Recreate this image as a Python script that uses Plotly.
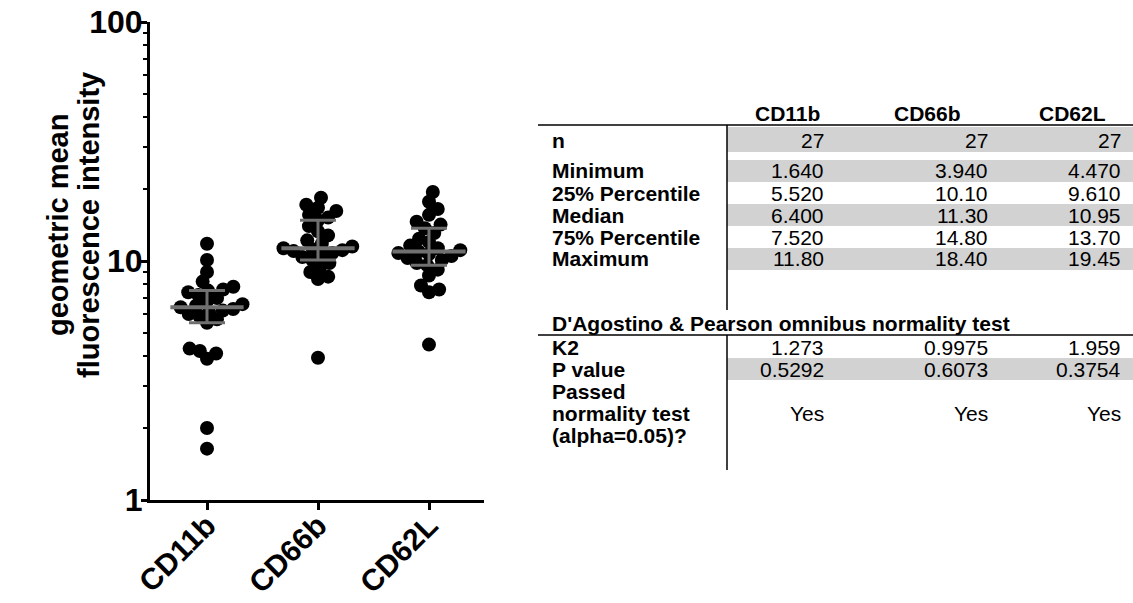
import math
import numpy as np
import plotly.graph_objects as go

# ---- data -------------------------------------------------------------
categories = ["CD11b", "CD66b", "CD62L"]

cd11b = [1.64, 2.0, 3.9, 4.1, 4.2, 4.3, 5.52, 5.7, 5.9, 6.0, 6.1, 6.2, 6.3, 6.4,
         6.5, 6.6, 6.8, 7.0, 7.2, 7.4, 7.52, 7.6, 7.8, 8.2, 9.0, 10.1, 11.8]
cd66b = [3.94, 8.4, 8.6, 9.0, 9.4, 9.8, 10.1, 10.4, 10.6, 10.8, 11.0, 11.1, 11.2, 11.3,
         11.5, 11.8, 12.2, 12.8, 13.3, 14.0, 14.8, 15.2, 15.6, 16.2, 16.7, 17.2, 18.4]
cd62l = [4.47, 7.4, 7.6, 7.9, 8.7, 9.2, 9.61, 9.8, 10.1, 10.3, 10.5, 10.7, 10.8, 10.95,
         11.1, 11.3, 11.6, 12.0, 12.4, 13.1, 13.7, 14.2, 14.6, 15.6, 16.5, 17.7, 19.45]
groups = [cd11b, cd66b, cd62l]

# descriptive statistics table
n_vals = [27, 27, 27]
minimum = [1.640, 3.940, 4.470]
q1 = [5.520, 10.10, 9.610]
median = [6.400, 11.30, 10.95]
q3 = [7.520, 14.80, 13.70]
maximum = [11.80, 18.40, 19.45]
k2 = [1.273, 0.9975, 1.959]
p_value = [0.5292, 0.6073, 0.3754]
passed = ["Yes", "Yes", "Yes"]

y_tick_vals = [1, 10, 100]
y_tick_text = ["1", "10", "100"]
y_minor_vals = [2, 3, 4, 5, 6, 7, 8, 9, 20, 30, 40, 50, 60, 70, 80, 90]

# ---- layout constants (pixels) ---------------------------------------
W, H = 1133, 603
AX_L, AX_R, AX_T, AX_B = 150, 484, 22, 500
X_RANGE = [-0.5135, 2.4955]
PX_PER_UNIT = (AX_R - AX_L) / (X_RANGE[1] - X_RANGE[0])
PX_PER_DECADE = (AX_B - AX_T) / 2.0
FONT = "Liberation Sans, Arial, sans-serif"
GRAY = "#707070"


def px_x(p):
    return p / W


def px_y(p):
    return 1 - p / H


def swarm_offsets(values, diam=10.5):
    """Beeswarm offsets (in category units) so markers do not pile up."""
    ys = np.log10(np.asarray(values, dtype=float)) * PX_PER_DECADE
    order = np.argsort(ys, kind="stable")
    placed = []
    offs = np.zeros(len(values))
    for idx in order:
        y = ys[idx]
        cands = [0.0]
        for px, py in placed:
            dy = y - py
            if abs(dy) < diam:
                dx = math.sqrt(diam * diam - dy * dy)
                cands += [px + dx, px - dx]
        valid = [c for c in cands
                 if all((c - px) ** 2 + (y - py) ** 2 >= diam * diam - 1e-6
                        for px, py in placed)]
        best = min(valid, key=lambda c: (abs(c), -c))
        placed.append((best, y))
        offs[idx] = best / PX_PER_UNIT
    return offs


fig = go.Figure()

# individual points
for i, vals in enumerate(groups):
    offs = swarm_offsets(vals)
    fig.add_trace(go.Scatter(
        x=i + offs, y=vals, mode="markers",
        marker=dict(size=14, color="black", line=dict(width=0)),
        showlegend=False, hoverinfo="y"))

# median lines
mx, my = [], []
for i, m in enumerate(median):
    mx += [i - 0.33, i + 0.33, None]
    my += [m, m, None]
fig.add_trace(go.Scatter(x=mx, y=my, mode="lines",
                         line=dict(color=GRAY, width=4),
                         showlegend=False, hoverinfo="skip"))

# interquartile range bars
fig.add_trace(go.Scatter(
    x=list(range(len(categories))), y=median, mode="markers",
    marker=dict(size=1, color="rgba(0,0,0,0)"),
    error_y=dict(type="data", symmetric=False,
                 array=[b - a for a, b in zip(median, q3)],
                 arrayminus=[a - b for a, b in zip(median, q1)],
                 color=GRAY, thickness=3, width=18),
    showlegend=False, hoverinfo="skip"))

fig.update_layout(
    width=W, height=H,
    margin=dict(l=0, r=0, t=0, b=0, autoexpand=False),
    paper_bgcolor="white", plot_bgcolor="white",
    font=dict(family=FONT, color="black"),
    xaxis=dict(
        domain=[px_x(AX_L), px_x(AX_R)], automargin=False,
        range=X_RANGE, showgrid=False, zeroline=False,
        showline=True, linecolor="black", linewidth=3,
        tickmode="array", tickvals=list(range(len(categories))),
        ticktext=categories, tickangle=-45, ticklabelstandoff=-14,
        ticks="outside", ticklen=7, tickwidth=3, tickcolor="black",
        tickfont=dict(size=30, family=FONT, weight="bold"),
    ),
    yaxis=dict(
        domain=[px_y(AX_B), px_y(AX_T)], automargin=False,
        type="log", range=[0, 2], showgrid=False, zeroline=False,
        showline=True, linecolor="black", linewidth=3,
        tickmode="array", tickvals=y_tick_vals, ticktext=y_tick_text,
        ticks="outside", ticklen=6, tickwidth=3, tickcolor="black",
        ticklabelstandoff=-8,
        tickfont=dict(size=32, family=FONT, weight="bold"),
        minor=dict(tickmode="array", tickvals=y_minor_vals,
                   ticks="outside", ticklen=4, tickwidth=2,
                   tickcolor="black"),
    ),
)

# y-axis title, two lines
for xc, line in [(58, "geometric mean"), (89, "fluorescence intensity")]:
    fig.add_annotation(
        x=px_x(xc), y=px_y(225), xref="paper", yref="paper",
        text=line, textangle=-90,
        showarrow=False, xanchor="center", yanchor="middle",
        font=dict(size=29, family=FONT, weight="bold"))

# ---- statistics table ------------------------------------------------
TBL_L, TBL_R, COL_SEP = 538, 1133, 727
LABEL_X = 550
VAL_RIGHT = [826, 990, 1123]
HEAD_CX = [787, 927, 1072]
TFS = 21


def text(x, y, s, anchor="left", bold=False):
    fig.add_annotation(
        x=px_x(x), y=px_y(y), xref="paper", yref="paper", text=s,
        showarrow=False, xanchor=anchor, yanchor="middle",
        font=dict(size=TFS, family=FONT, weight="bold" if bold else "normal"))


def band(y0, y1):
    fig.add_shape(type="rect", xref="paper", yref="paper",
                  x0=px_x(COL_SEP), x1=px_x(TBL_R), y0=px_y(y1), y1=px_y(y0),
                  fillcolor="#d2d2d2", line=dict(width=0), layer="below")


def hline(y):
    fig.add_shape(type="line", xref="paper", yref="paper",
                  x0=px_x(TBL_L), x1=px_x(TBL_R), y0=px_y(y), y1=px_y(y),
                  line=dict(color="black", width=1.5))


def vline(y0, y1):
    fig.add_shape(type="line", xref="paper", yref="paper",
                  x0=px_x(COL_SEP), x1=px_x(COL_SEP), y0=px_y(y0), y1=px_y(y1),
                  line=dict(color="black", width=1.5))


def fmt(v):
    return f"{v:#.4g}"


for cx, name in zip(HEAD_CX, categories):
    text(cx, 113, name, anchor="center", bold=True)

hline(125)
vline(125, 310)

rows = [
    ("n", [str(v) for v in n_vals], 141, (127, 152)),
    ("Minimum", [fmt(v) for v in minimum], 171, (160, 182)),
    ("25% Percentile", [fmt(v) for v in q1], 193, None),
    ("Median", [fmt(v) for v in median], 215, (204, 226)),
    ("75% Percentile", [fmt(v) for v in q3], 237, None),
    ("Maximum", [fmt(v) for v in maximum], 259, (248, 270)),
]
for label, vals, y, shade in rows:
    if shade:
        band(*shade)
    text(LABEL_X, y, label, bold=True)
    for xr, s in zip(VAL_RIGHT, vals):
        text(xr, y, s, anchor="right")

text(LABEL_X, 323, "D'Agostino & Pearson omnibus normality test", bold=True)
hline(335)
vline(335, 470)

rows2 = [
    ("K2", [fmt(v) for v in k2], 347, None),
    ("P value", [fmt(v) for v in p_value], 369, (358, 380)),
]
for label, vals, y, shade in rows2:
    if shade:
        band(*shade)
    text(LABEL_X, y, label, bold=True)
    for xr, s in zip(VAL_RIGHT, vals):
        text(xr, y, s, anchor="right")

text(LABEL_X, 391, "Passed", bold=True)
text(LABEL_X, 413, "normality test", bold=True)
text(LABEL_X, 435, "(alpha=0.05)?", bold=True)
for xr, s in zip(VAL_RIGHT, passed):
    text(xr, 413, s, anchor="right")

fig.write_html("out.html")
